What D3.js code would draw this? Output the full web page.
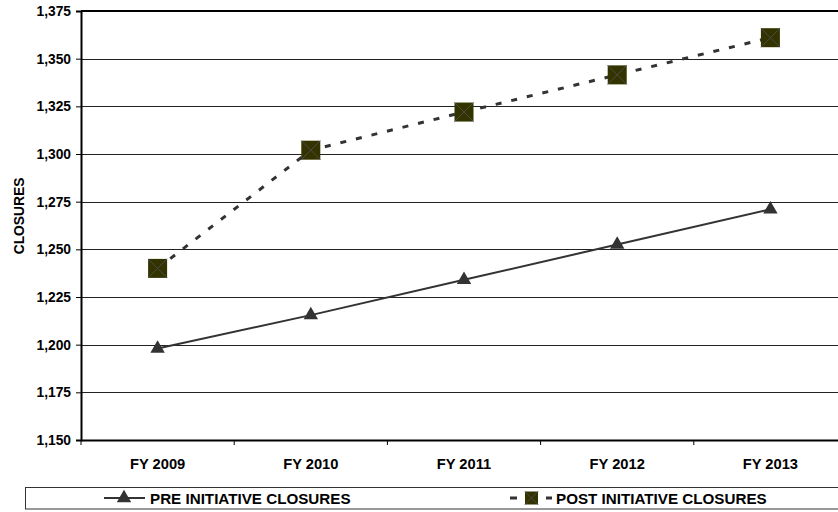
<!DOCTYPE html>
<html><head><meta charset="utf-8">
<script src="https://cdn.jsdelivr.net/npm/d3@7/dist/d3.min.js"></script>
<style>body{margin:0;background:#fff;}svg{display:block;font-family:"Liberation Sans",Arial,sans-serif;font-weight:bold;}</style>
</head><body>
<script>
const categories = ["FY 2009","FY 2010","FY 2011","FY 2012","FY 2013"];
const preValues = [1198, 1215.5, 1234, 1252.5, 1271];
const postValues = [1240, 1302, 1322, 1341.5, 1361];
const yTicks = [1150,1175,1200,1225,1250,1275,1300,1325,1350,1375];
const seriesNames = ["PRE INITIATIVE CLOSURES","POST INITIATIVE CLOSURES"];
const yTitle = "CLOSURES";

const W=838,H=512;
const m={left:81,top:11,right:847,bottom:440};
const svg=d3.select("body").append("svg").attr("width",W).attr("height",H);
const x=d3.scaleBand().domain(categories).range([m.left,m.right]);
const y=d3.scaleLinear().domain([1150,1375]).range([m.bottom,m.top]);

// gridlines
svg.append("g").selectAll("line").data(yTicks.slice(1,-1)).join("line")
 .attr("x1",m.left).attr("x2",m.right).attr("y1",d=>Math.round(y(d))+0.5).attr("y2",d=>Math.round(y(d))+0.5)
 .attr("stroke","#222").attr("stroke-width",1.2);
// top frame
svg.append("line").attr("x1",m.left).attr("x2",m.right).attr("y1",m.top).attr("y2",m.top).attr("stroke","#000").attr("stroke-width",2);

// y axis
const ya=svg.append("g").attr("transform",`translate(${m.left},0)`)
 .call(d3.axisLeft(y).tickValues(yTicks).tickFormat(d3.format(",")).tickSize(5).tickPadding(5));
ya.select(".domain").attr("stroke","#000").attr("stroke-width",2);
ya.selectAll(".tick line").attr("stroke","#000");
ya.selectAll("text").attr("font-size","13.8px").attr("font-weight","bold").attr("font-family","Liberation Sans, Arial, sans-serif").attr("fill","#000");

// x axis
const xa=svg.append("g").attr("transform",`translate(0,${m.bottom})`)
 .call(d3.axisBottom(x).tickSize(0).tickPadding(19));
xa.select(".domain").attr("stroke","#000").attr("stroke-width",2);
xa.selectAll("text").attr("font-size","14.7px").attr("font-weight","bold").attr("font-family","Liberation Sans, Arial, sans-serif").attr("fill","#000");
svg.append("g").selectAll("line").data(categories).join("line")
 .attr("x1",d=>x(d)).attr("x2",d=>x(d)).attr("y1",m.bottom).attr("y2",m.bottom+5).attr("stroke","#000");

// y title
svg.append("text").attr("transform",`translate(24,216) rotate(-90)`).attr("text-anchor","middle")
 .attr("font-size","13.8px").text(yTitle);

const cx=d=>x(d)+x.bandwidth()/2;
const pre=categories.map((c,i)=>[cx(c),y(preValues[i])]);
const post=categories.map((c,i)=>[cx(c),y(postValues[i])]);

svg.append("path").attr("d",d3.line()(pre)).attr("fill","none").attr("stroke","#333").attr("stroke-width",2);
svg.append("path").attr("d",d3.line()(post)).attr("fill","none").attr("stroke","#333").attr("stroke-width",3).attr("stroke-dasharray","6,10");

const tri=d3.symbol().type(d3.symbolTriangle).size(90);
function square(g,px,py,s){
 g.append("rect").attr("x",px-s/2).attr("y",py-s/2).attr("width",s).attr("height",s).attr("fill","#333300");
 g.append("path").attr("d",`M${px-s/2},${py-s/2}L${px+s/2},${py+s/2}M${px+s/2},${py-s/2}L${px-s/2},${py+s/2}`).attr("stroke","#4a4a4a").attr("stroke-width",1);
}
svg.append("g").selectAll("path").data(pre).join("path").attr("d",tri).attr("transform",d=>`translate(${d[0]},${d[1]})`).attr("fill","#333");
const sg=svg.append("g");
post.forEach(p=>square(sg,p[0],p[1],19));

// legend
svg.append("rect").attr("x",25.5).attr("y",487.5).attr("width",830).attr("height",21.5).attr("fill","none").attr("stroke","#333").attr("stroke-width",1);
const ly=498;
svg.append("line").attr("x1",104).attr("x2",145).attr("y1",ly).attr("y2",ly).attr("stroke","#333").attr("stroke-width",2);
svg.append("path").attr("d",tri).attr("transform",`translate(124,${ly})`).attr("fill","#333");
svg.append("text").attr("x",150).attr("y",504).attr("font-size","15.2px").text(seriesNames[0]);
svg.append("line").attr("x1",510).attr("x2",552).attr("y1",ly).attr("y2",ly).attr("stroke","#333").attr("stroke-width",3).attr("stroke-dasharray","7,29");
square(svg,531.5,ly,13);
svg.append("text").attr("x",556).attr("y",504).attr("font-size","15.2px").text(seriesNames[1]);
</script>
</body></html>
